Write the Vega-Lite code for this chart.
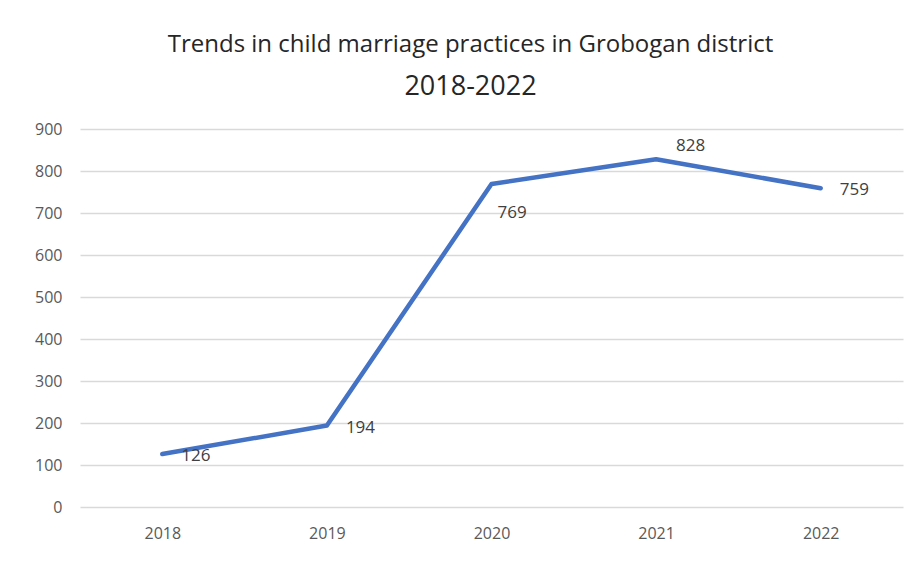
{
  "$schema": "https://vega.github.io/schema/vega-lite/v6.json",
  "width": 823,
  "height": 378,
  "autosize": "none",
  "padding": {"left": 80, "top": 129, "right": 18, "bottom": 54},
  "background": "white",
  "title": {
    "text": "Trends in child marriage practices in Grobogan district",
    "subtitle": "2018-2022",
    "anchor": "middle",
    "dx": -21,
    "offset": 21,
    "font": "Open Sans",
    "fontSize": 24,
    "fontWeight": "normal",
    "color": "#262626",
    "subtitleFont": "Open Sans",
    "subtitleFontSize": 27,
    "subtitleColor": "#262626",
    "subtitlePadding": 17
  },
  "config": {
    "view": {"stroke": null},
    "axis": {"labelFont": "Open Sans", "labelColor": "#595959", "labelFontSize": 16, "domain": false, "ticks": false, "titleFontSize": 0}
  },
  "data": {"values": [
    {"year": "2018", "value": 126},
    {"year": "2019", "value": 194},
    {"year": "2020", "value": 769},
    {"year": "2021", "value": 828},
    {"year": "2022", "value": 759}
  ]},
  "encoding": {
    "x": {"field": "year", "type": "ordinal", "scale": {"paddingInner": 0, "paddingOuter": 0.5}, "axis": {"labelAngle": 0, "title": null, "labelPadding": 18, "grid": false}},
    "y": {"field": "value", "type": "quantitative", "scale": {"domain": [0, 900]}, "axis": {"values": [0,100,200,300,400,500,600,700,800,900], "title": null, "gridColor": "#d9d9d9", "gridWidth": 1.5, "labelPadding": 18}}
  },
  "layer": [
    {"mark": {"type": "line", "color": "#4472C4", "strokeWidth": 4.5, "strokeCap": "round", "strokeJoin": "round"}},
    {"transform": [{"filter": "datum.year == '2018' || datum.year == '2019' || datum.year == '2022'"}],
     "mark": {"type": "text", "align": "left", "baseline": "middle", "dx": 19, "dy": 2, "font": "Open Sans", "fontSize": 17, "color": "#404040"},
     "encoding": {"text": {"field": "value"}}},
    {"transform": [{"filter": "datum.year == '2020'"}],
     "mark": {"type": "text", "align": "left", "baseline": "middle", "dx": 6, "dy": 29, "font": "Open Sans", "fontSize": 17, "color": "#404040"},
     "encoding": {"text": {"field": "value"}}},
    {"transform": [{"filter": "datum.year == '2021'"}],
     "mark": {"type": "text", "align": "left", "baseline": "middle", "dx": 20, "dy": -13, "font": "Open Sans", "fontSize": 17, "color": "#404040"},
     "encoding": {"text": {"field": "value"}}}
  ]
}
